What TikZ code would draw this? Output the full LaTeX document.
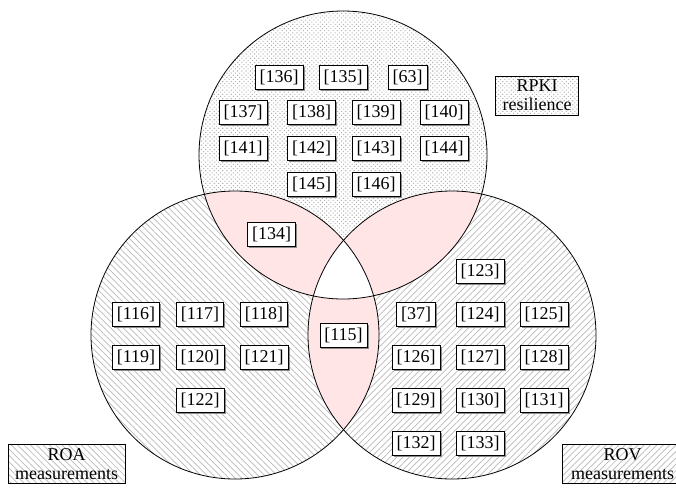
\documentclass[tikz,border=0pt]{standalone}
\usepackage{fontspec}
\setmainfont{Liberation Serif}
\usetikzlibrary{patterns.meta,shadows}

\begin{document}
\begin{tikzpicture}[x=1pt,y=-1pt,
    ref/.style={draw,fill=white,inner xsep=4.5pt,inner ysep=2pt,minimum height=24pt,
      font=\fontsize{18}{21}\selectfont,
      drop shadow={shadow xshift=1.6pt,shadow yshift=-1.6pt,fill=black!45,opacity=1}},
    legend/.style={draw,align=center,inner xsep=7pt,inner ysep=4pt,
      font=\fontsize{18}{19}\selectfont},
    dotfill/.style={pattern={Dots[distance=3pt,radius=.75pt,angle=45]},pattern color=black!30},
    nwfill/.style={pattern={Lines[angle=-45,distance=4.5pt,line width=.7pt]},pattern color=black!28},
    nefill/.style={pattern={Lines[angle=45,distance=4.5pt,line width=.7pt]},pattern color=black!28},
    overlap/.style={fill=red!10}]
    \clip (0,0) rectangle (676,491);
    \coordinate (T) at (343,155);
    \coordinate (L) at (235,335);
    \coordinate (R) at (452,335);
    % sets
    \fill[dotfill] (T) circle[radius=144pt];
    \fill[nwfill] (L) circle[radius=144pt];
    \fill[nefill] (R) circle[radius=144pt];
    % pairwise overlaps
    \begin{scope}
     \clip (T) circle[radius=144pt];
     \fill[overlap] (L) circle[radius=144pt];
     \fill[overlap] (R) circle[radius=144pt];
    \end{scope}
    \begin{scope}
     \clip (L) circle[radius=144pt];
     \fill[overlap] (R) circle[radius=144pt];
    \end{scope}
    \begin{scope}
     \clip (T) circle[radius=144pt];
     \clip (L) circle[radius=144pt];
     \fill[white] (R) circle[radius=144pt];
    \end{scope}
    \foreach \c in {T,L,R}
     \draw[line width=.8pt] (\c) circle[radius=144pt];
    % references
    \foreach \n/\x/\y in {136/279/77,135/343/77,63/407.5/77,
      137/243/112,138/311.5/112,139/376/112,140/444/112,
      141/243/148,142/311.5/148,143/376/148,144/444/148,
      145/311.5/184,146/376/184,
      134/271.5/234.5,115/343.5/335,
      116/136/314,117/200/314,118/264/314,
      119/136/357,120/200/357,121/264/357,122/200/400,
      123/480/271,37/416/314,124/480/314,125/544/314,
      126/416/357,127/480/357,128/544/357,
      129/416/400,130/480/400,131/544/400,
      132/416/443,133/480/443}
     \node[ref] (c\n) at (\x,\y) {[\n]};
    % legends
    \node[legend,dotfill] (rpki) at (537,95.5) {RPKI\\resilience};
    \node[legend,nwfill,anchor=north west] (roa) at (8,444) {ROA\\measurements};
    \node[legend,nefill,anchor=north west,inner xsep=9pt] (rov) at (562,444) {ROV\\measurements};
\end{tikzpicture}
\end{document}
